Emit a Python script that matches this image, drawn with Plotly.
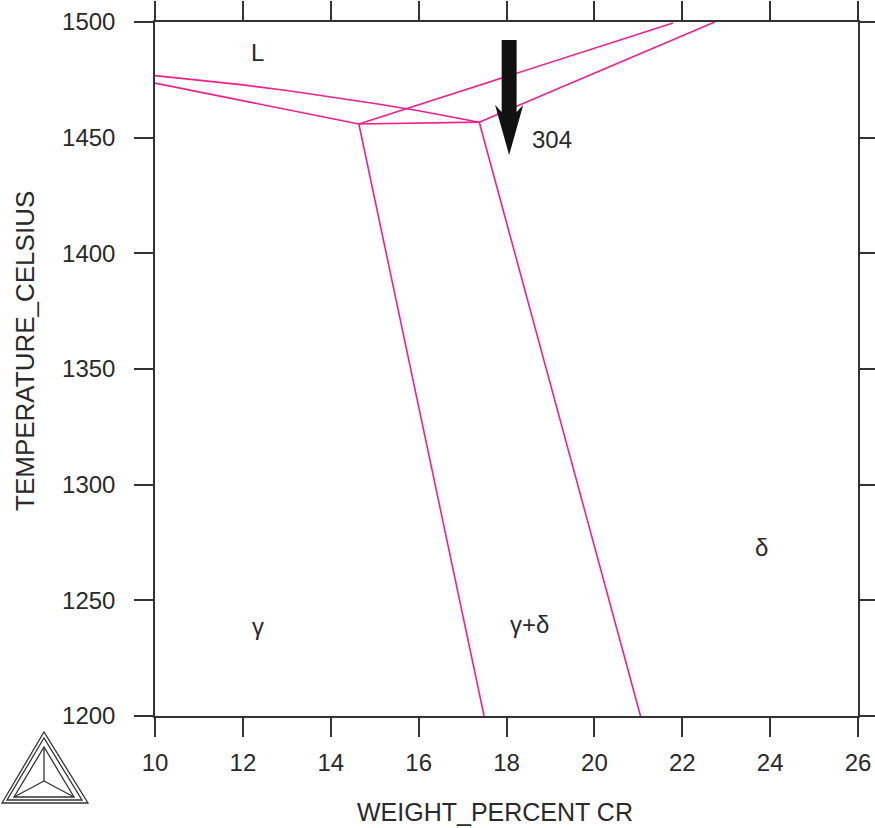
import plotly.graph_objects as go

# ---------------- data ----------------
# liquidus boundaries (wt% Cr, deg C)
liq_upper_x = [10.0, 11.0, 12.0, 13.0, 14.0, 15.0, 16.0, 17.0, 17.38]
liq_upper_y = [1476.8, 1474.9, 1472.8, 1470.4, 1467.7, 1464.8, 1461.6, 1458.1, 1456.7]
liq_lower_x = [10.0, 14.64]
liq_lower_y = [1473.6, 1455.9]
tie_x = [14.64, 17.38]
tie_y = [1455.9, 1456.7]
sol_left_x = [14.64, 21.79]
sol_left_y = [1455.9, 1499.6]
sol_right_x = [17.38, 22.74]
sol_right_y = [1456.7, 1500.0]
gam_x = [14.64, 17.49]
gam_y = [1455.9, 1200.0]
del_x = [17.38, 21.05]
del_y = [1456.7, 1200.0]

labels = ["L", "304", "γ", "γ+δ", "δ"]
label_x = [12.34, 19.03, 12.34, 18.53, 23.8]
label_y = [1487.0, 1449.0, 1238.5, 1239.5, 1273.0]

arrow_x = 18.06
arrow_top = 1492.2
arrow_tip = 1442.5

x_ticks = [10, 12, 14, 16, 18, 20, 22, 24, 26]
y_ticks = [1200, 1250, 1300, 1350, 1400, 1450, 1500]
x_title = "WEIGHT_PERCENT CR"
y_title = "TEMPERATURE_CELSIUS"

# ---------------- style ----------------
W, H = 875, 828
ML, MR, MT, MB = 155, 17, 22, 112
PINK = "#f0208c"
TXT = "#2a2a2a"
FONT = "Liberation Sans, Arial, sans-serif"

PW, PH = W - ML - MR, H - MT - MB
def px(x):
    return (x - ML) / PW
def py(y):
    return (H - MB - y) / PH

fig = go.Figure()
for xs, ys in [(liq_upper_x, liq_upper_y), (liq_lower_x, liq_lower_y), (tie_x, tie_y),
               (sol_left_x, sol_left_y), (sol_right_x, sol_right_y),
               (gam_x, gam_y), (del_x, del_y)]:
    fig.add_trace(go.Scatter(x=xs, y=ys, mode="lines",
                             line=dict(color=PINK, width=1.6),
                             hoverinfo="skip", showlegend=False))

for t, x, y in zip(labels, label_x, label_y):
    fig.add_annotation(x=x, y=y, text=t, showarrow=False,
                       font=dict(family=FONT, size=24, color=TXT))

# axis titles placed as annotations
fig.add_annotation(xref="paper", yref="paper", x=px(495), y=py(812), text=x_title,
                   xanchor="center", yanchor="middle",
                   showarrow=False, font=dict(family=FONT, size=25, color=TXT))
fig.add_annotation(xref="paper", yref="paper", x=px(25), y=py(351), text=y_title,
                   xanchor="center", yanchor="middle",
                   textangle=-90, showarrow=False,
                   font=dict(family=FONT, size=26, color=TXT))

# arrow (filled polygon in data coords)
sw = 0.17   # shaft half width (wt%)
hw = 0.32   # head half width
hl = 18.6   # head length (deg)
hb = arrow_tip + hl
arrow_path = (f"M {arrow_x - sw},{arrow_top} L {arrow_x + sw},{arrow_top} "
              f"L {arrow_x + sw},{hb} L {arrow_x + hw},{hb + 3} L {arrow_x},{arrow_tip} "
              f"L {arrow_x - hw},{hb + 3} L {arrow_x - sw},{hb} Z")
fig.add_shape(type="path", path=arrow_path, xref="x", yref="y",
              fillcolor="#111111", line=dict(color="#111111", width=0))

# Thermo-Calc logo (pixel positions converted to paper coords)
def tri(a, b, c):
    return (f"M {px(a[0])},{py(a[1])} L {px(b[0])},{py(b[1])} "
            f"L {px(c[0])},{py(c[1])} Z")
logo = dict(color="#333333", width=1.3)
fig.add_shape(type="path", xref="paper", yref="paper", line=logo,
              path=tri((44, 732), (2, 803), (88, 803)))
fig.add_shape(type="path", xref="paper", yref="paper", line=logo,
              path=tri((44, 738), (7, 800), (82, 800)))
fig.add_shape(type="path", xref="paper", yref="paper", line=logo,
              path=tri((44, 747), (14, 797), (74, 797)))
cx, cy = 44, 781
for vx, vy in [(44, 747), (14, 797), (74, 797)]:
    fig.add_shape(type="line", xref="paper", yref="paper", line=logo,
                  x0=px(cx), y0=py(cy), x1=px(vx), y1=py(vy))

axis_common = dict(showline=True, linecolor="#333333", linewidth=1.5, mirror="ticks",
                   ticks="outside", ticklen=19, tickwidth=1.5, tickcolor="#333333",
                   showgrid=False, zeroline=False, automargin=False,
                   tickfont=dict(family=FONT, size=24, color=TXT))
fig.update_xaxes(range=[10, 26], tickvals=x_ticks, ticklabelstandoff=5, **axis_common)
fig.update_yaxes(range=[1200, 1500], tickvals=y_ticks, ticklabelstandoff=14, **axis_common)

fig.update_layout(width=W, height=H, margin=dict(l=ML, r=MR, t=MT, b=MB),
                  plot_bgcolor="white", paper_bgcolor="white")
fig.write_html("out.html")
